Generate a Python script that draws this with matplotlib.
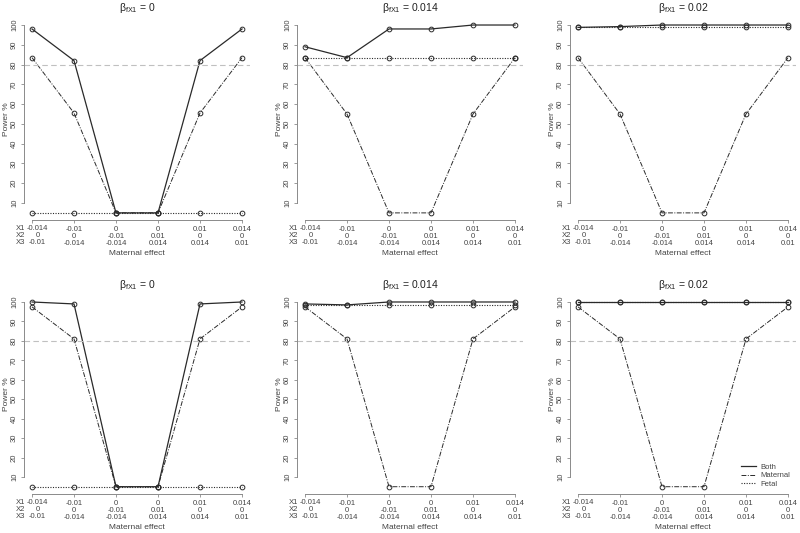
import matplotlib
matplotlib.use('Agg')
import matplotlib.pyplot as plt
import matplotlib.transforms as mtransforms
from matplotlib.lines import Line2D

plt.rcParams['font.family'] = ['Liberation Sans', 'DejaVu Sans']
plt.rcParams['mathtext.fontset'] = 'custom'
plt.rcParams['mathtext.rm'] = 'Liberation Sans'
plt.rcParams['mathtext.it'] = 'Liberation Sans:italic'

# scenario positions and their X1/X2/X3 labels
positions = [1, 2, 3, 4, 5, 6]
x1_labels = ['-0.014', '-0.01', '0', '0', '0.01', '0.014']
x2_labels = ['0', '0', '-0.01', '0.01', '0', '0']
x3_labels = ['-0.01', '-0.014', '-0.014', '0.014', '0.014', '0.01']

beta_titles = ['0', '0.014', '0.02']

# top row
both_top = [[98, 82, 5, 5, 82, 98],
            [89, 83.5, 98, 98, 100, 100],
            [98.8, 99.2, 100, 100, 100, 100]]
maternal_top = [[83.5, 55.5, 5, 5, 55.5, 83.5],
                [83.5, 55, 5, 5, 55, 83.5],
                [83.5, 55, 5, 5, 55, 83.5]]
fetal_top = [[5, 5, 5, 5, 5, 5],
             [83.5, 83.5, 83.5, 83.5, 83.5, 83.5],
             [98.8, 98.8, 98.8, 98.8, 98.8, 98.8]]

# bottom row
both_bot = [[100, 99, 5, 5, 99, 100],
            [99, 98.5, 100, 100, 100, 100],
            [100, 100, 100, 100, 100, 100]]
maternal_bot = [[97.5, 81, 5, 5, 81, 97.5],
                [97.5, 81, 5, 5, 81, 97.5],
                [97.5, 81, 5, 5, 81, 97.5]]
fetal_bot = [[5, 5, 5, 5, 5, 5],
             [98.5, 98.5, 98.5, 98.5, 98.5, 98.5],
             [99.9, 99.9, 99.9, 99.9, 99.9, 99.9]]

yticks = [10, 20, 30, 40, 50, 60, 70, 80, 90, 100]

fig = plt.figure(figsize=(8, 5.33), dpi=100)

lefts = [23.6 / 800, 296.6 / 800, 569.6 / 800]
width = 226.8 / 800
rows = [(1 - 220.4 / 533, 202.9 / 533), (1 - 494.1 / 533, 199.5 / 533)]

line_col = '#2a2a2a'
axis_col = '#8a8a8a'
text_col = '#444444'
mat_dash = [5, 1.5, 1, 1.5]
fet_dash = [1, 1.3]


def panel(ax, both, maternal, fetal, title, legend=False):
    mk = dict(marker='o', ms=3.4, mfc='none', mec=line_col, mew=0.7)
    ax.plot(positions, both, '-', color=line_col, lw=0.9, **mk)
    ax.plot(positions, maternal, color=line_col, lw=0.7, dashes=mat_dash, **mk)
    ax.plot(positions, fetal, color=line_col, lw=0.8, dashes=fet_dash, **mk)
    ax.axhline(80, color='#c0c0c0', lw=0.8, dashes=[5, 3])
    ax.set_xlim(0.8, 6.2)
    ax.set_ylim(1.2, 103.8)
    for s in ['top', 'right']:
        ax.spines[s].set_visible(False)
    ax.spines['left'].set_bounds(10, 100)
    ax.spines['bottom'].set_bounds(1, 6)
    for s in ['left', 'bottom']:
        ax.spines[s].set_color(axis_col)
        ax.spines[s].set_linewidth(0.7)
    ax.set_yticks(yticks)
    ax.set_yticklabels([str(v) for v in yticks], rotation=90, va='center')
    ax.set_xticks(positions)
    labels = [a + '\n' + b + '\n' + c for a, b, c in zip(x1_labels, x2_labels, x3_labels)]
    # first column is drawn shifted right to make room for the X1/X2/X3 row names
    ax.set_xticklabels([''] + labels[1:], linespacing=1.05)
    ax.tick_params(colors=axis_col, labelcolor=text_col, labelsize=5.5,
                   length=2.5, width=0.6, pad=1.5)
    trans = mtransforms.blended_transform_factory(ax.transData, ax.transAxes)
    ytxt = -0.0225
    ax.text(1.13, ytxt, labels[0], transform=trans, ha='center', va='top',
            fontsize=5.5, color=text_col, linespacing=1.05)
    ax.text(0.83, ytxt, 'X1\nX2\nX3', transform=trans, ha='right', va='top',
            fontsize=5.5, color=text_col, linespacing=1.05)
    ax.set_xlabel('Maternal effect', fontsize=6, color=text_col, labelpad=2)
    ax.set_ylabel('Power %', fontsize=6, color=text_col, labelpad=1)
    ax.set_title('β$_{\\mathrm{fX1}}$ = ' + title, fontsize=7.5, color='#222222', pad=5)
    if legend:
        handles = [Line2D([], [], color=line_col, lw=0.9),
                   Line2D([], [], color=line_col, lw=0.7, dashes=mat_dash),
                   Line2D([], [], color=line_col, lw=0.8, dashes=fet_dash)]
        ax.legend(handles, ['Both', 'Maternal', 'Fetal'], loc='lower right',
                  frameon=False, fontsize=5.5, handlelength=2.0,
                  labelspacing=0.15, handletextpad=0.6, borderaxespad=0.4,
                  labelcolor=text_col)


for i in range(3):
    ax = fig.add_axes([lefts[i], rows[0][0], width, rows[0][1]])
    panel(ax, both_top[i], maternal_top[i], fetal_top[i], beta_titles[i])
for i in range(3):
    ax = fig.add_axes([lefts[i], rows[1][0], width, rows[1][1]])
    panel(ax, both_bot[i], maternal_bot[i], fetal_bot[i], beta_titles[i], legend=(i == 2))

fig.savefig('out.png', dpi=100)
